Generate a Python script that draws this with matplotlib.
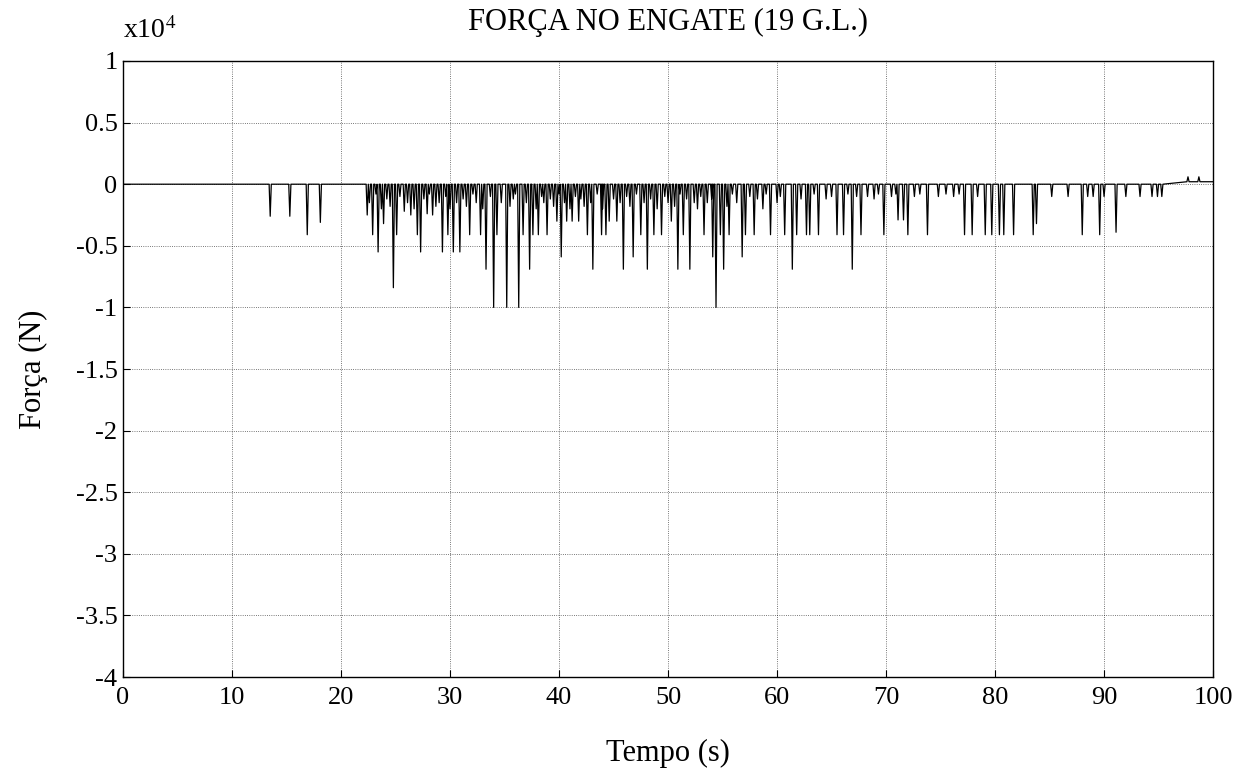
"""Coupler force time history (19 DOF model)."""

import matplotlib

matplotlib.use("Agg")
import matplotlib.pyplot as plt
import numpy as np

# deep impacts: time (s) and force (x1e4 N)
spike_t = [13.5, 15.3, 16.9, 18.1, 22.4, 22.9, 23.4, 23.9, 24.8, 25.1, 25.8, 26.4,
           27.0, 27.3, 27.9, 28.4, 29.3, 29.8, 30.3, 30.9, 31.8, 32.8, 33.3, 34.0,
           34.3, 35.2, 36.3, 36.7, 37.3, 37.6, 38.1, 38.9, 39.8, 40.2, 40.7, 41.2,
           41.8, 42.6, 43.1, 43.9, 44.3, 44.6, 45.3, 45.9, 46.8, 47.5, 48.1, 48.7,
           49.4, 50.3, 50.9, 51.4, 52.0, 53.3, 54.1, 54.4, 54.8, 55.1, 55.6, 56.8,
           57.1, 57.9, 59.4, 60.7, 61.4, 61.8, 62.7, 63.0, 63.8, 64.5, 65.5, 66.1,
           66.9, 67.7, 68.3, 68.9, 69.8, 70.5, 71.1, 71.6, 72.0, 72.6, 73.8, 74.8,
           76.2, 77.2, 77.9, 78.4, 79.1, 79.7, 80.4, 80.8, 81.7, 83.5, 83.8, 85.2,
           86.7, 88.0, 88.5, 89.0, 89.6, 90.0, 91.1, 92.0, 93.3, 94.4, 94.9, 95.3]
spike_f = [-0.26, -0.26, -0.41, -0.31, -0.25, -0.41, -0.55, -0.32, -0.84, -0.41, -0.22, -0.25,
           -0.41, -0.55, -0.24, -0.25, -0.55, -0.41, -0.55, -0.55, -0.41, -0.41, -0.69, -1.0,
           -0.41, -1.0, -1.0, -0.41, -0.69, -0.41, -0.41, -0.41, -0.30, -0.59, -0.30, -0.30,
           -0.30, -0.41, -0.69, -0.41, -0.41, -0.30, -0.30, -0.69, -0.59, -0.41, -0.69, -0.41,
           -0.41, -0.30, -0.69, -0.41, -0.69, -0.41, -0.59, -1.0, -0.41, -0.69, -0.41, -0.59,
           -0.41, -0.41, -0.41, -0.41, -0.69, -0.41, -0.41, -0.41, -0.41, -0.12, -0.41, -0.41,
           -0.69, -0.41, -0.10, -0.12, -0.41, -0.10, -0.29, -0.29, -0.41, -0.10, -0.41, -0.10,
           -0.10, -0.41, -0.41, -0.10, -0.41, -0.41, -0.41, -0.41, -0.41, -0.41, -0.32, -0.10,
           -0.10, -0.41, -0.10, -0.10, -0.41, -0.10, -0.39, -0.10, -0.10, -0.10, -0.10, -0.10]

# small ripples between impacts
ripple_t = [22.6, 23.2, 23.7, 24.2, 24.5, 25.4, 26.1, 26.7, 27.6, 28.1, 28.7, 29.0,
            29.6, 30.0, 30.6, 31.2, 31.5, 32.1, 32.4, 33.0, 33.7, 34.7, 35.5, 35.8,
            36.0, 37.0, 37.9, 38.4, 38.6, 39.2, 39.5, 40.0, 40.5, 41.0, 41.5, 42.0,
            42.3, 42.9, 43.5, 44.0, 45.0, 45.6, 46.2, 46.5, 47.1, 47.8, 48.4, 49.0,
            49.7, 50.0, 50.6, 51.1, 51.7, 52.4, 52.7, 53.0, 53.6, 54.0, 55.4, 55.9,
            56.3, 57.5, 58.2, 58.7, 59.0, 60.0, 60.3, 62.2, 63.4, 65.0, 66.5, 67.3,
            69.3, 70.9, 73.1, 75.5, 76.7]
ripple_f = [-0.15, -0.08, -0.20, -0.12, -0.18, -0.10, -0.15, -0.20, -0.12, -0.08, -0.18, -0.15,
            -0.10, -0.20, -0.15, -0.12, -0.18, -0.08, -0.15, -0.20, -0.10, -0.15, -0.18, -0.12,
            -0.08, -0.15, -0.20, -0.10, -0.15, -0.12, -0.18, -0.08, -0.15, -0.20, -0.10, -0.12,
            -0.18, -0.15, -0.08, -0.20, -0.12, -0.15, -0.10, -0.18, -0.08, -0.15, -0.12, -0.20,
            -0.10, -0.15, -0.18, -0.08, -0.12, -0.15, -0.20, -0.10, -0.15, -0.12, -0.18, -0.08,
            -0.15, -0.10, -0.12, -0.20, -0.08, -0.15, -0.10, -0.12, -0.08, -0.10, -0.08, -0.10,
            -0.08, -0.08, -0.08, -0.08, -0.08]

# late positive blips after the final impact
blip_t = [97.7, 98.7]
blip_f = [0.06, 0.06]

T_END = 100.0
SETTLE_T = 95.6  # baseline lifts slightly after this
SETTLE_F = 0.02


def build_trace(half_width=0.1):
    events = sorted(zip(spike_t + ripple_t + blip_t, spike_f + ripple_f + blip_f))
    xs, ys = [0.0], [0.0]
    for t, f in events:
        base = SETTLE_F if t > SETTLE_T else 0.0
        xs += [t - half_width, t, t + half_width]
        ys += [base, f, base]
    xs.append(T_END)
    ys.append(SETTLE_F)
    return np.array(xs), np.array(ys)


plt.rcParams["font.family"] = ["Liberation Serif", "DejaVu Serif"]
plt.rcParams["mathtext.fontset"] = "stix"

fig = plt.figure(figsize=(12.48, 7.78), dpi=100)
ax = fig.add_axes([0.0986, 0.1298, 0.8734, 0.7918])

x, y = build_trace()
ax.plot(x, y, color="black", linewidth=0.9)

ax.set_xlim(0, 100)
ax.set_ylim(-4, 1)
ax.set_xticks(np.arange(0, 101, 10))
ax.set_yticks(np.arange(-4, 1.01, 0.5))
ax.set_yticklabels([f"{v:g}" for v in np.arange(-4, 1.01, 0.5)])
ax.grid(True, color="black", linestyle=":", linewidth=0.6, alpha=0.7)
ax.tick_params(direction="in", length=5, labelsize=19)
ax.tick_params(axis="x", pad=7)
ax.tick_params(axis="y", pad=4)
for s in ax.spines.values():
    s.set_linewidth(1.0)

ax.set_title("FORÇA NO ENGATE (19 G.L.)", fontsize=22, pad=22)
ax.set_xlabel("Tempo (s)", fontsize=22, labelpad=22)
ax.set_ylabel("Força (N)", fontsize=22, labelpad=20)
ax.text(0.0, 1.037, r"x10$^4$", transform=ax.transAxes, fontsize=20,
        ha="left", va="baseline")

fig.savefig("out.png", dpi=100)
